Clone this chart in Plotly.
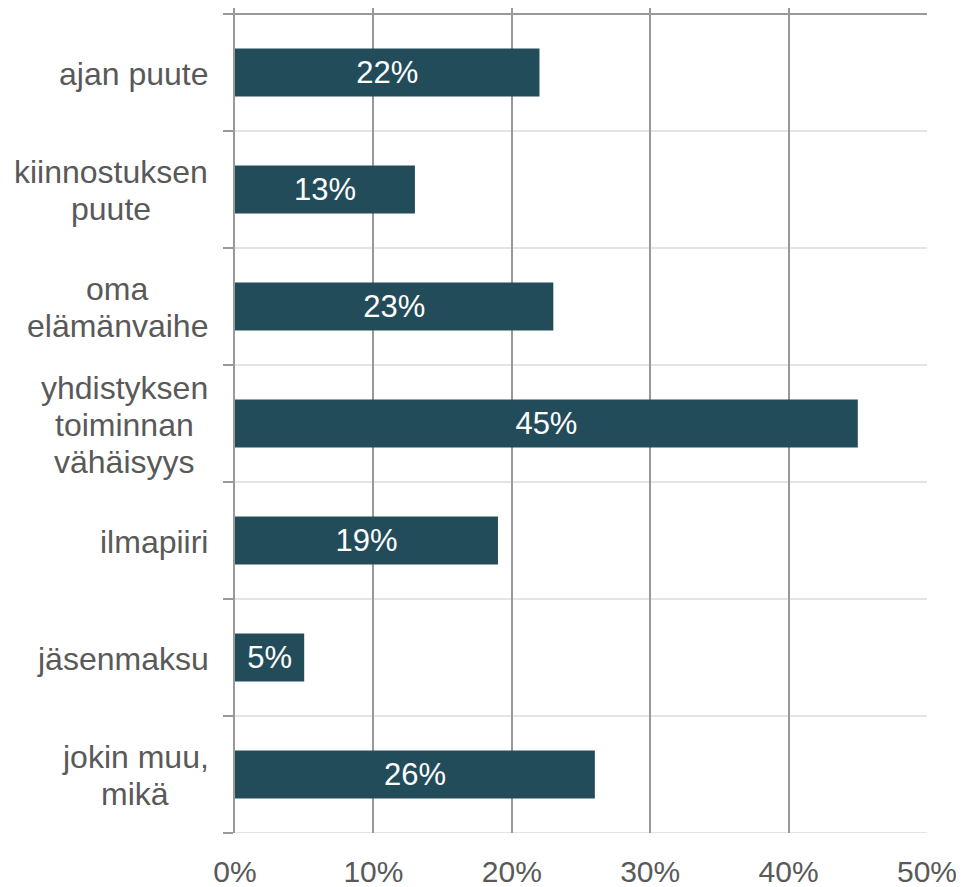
import plotly.graph_objects as go

categories = ["ajan puute", "kiinnostuksen<br>puute", "oma<br>elämänvaihe",
              "yhdistyksen<br>toiminnan<br>vähäisyys", "ilmapiiri", "jäsenmaksu",
              "jokin muu,<br>mikä"]
values = [0.22, 0.13, 0.23, 0.45, 0.19, 0.05, 0.26]
value_labels = ["22%", "13%", "23%", "45%", "19%", "5%", "26%"]
x_ticks = [0, 0.1, 0.2, 0.3, 0.4, 0.5]
x_tick_labels = ["0%", "10%", "20%", "30%", "40%", "50%"]

FONT = "Liberation Sans, Arial, sans-serif"
GRAY = "#999999"
LIGHT = "#e4e4e4"
TEXT = "#595959"
BAR = "#234c5a"
LABEL_SIZE = 32

# Arial / Liberation Sans advance widths (em) for block centring of labels
CW = {"a": .556, "j": .222, "n": .556, " ": .278, "p": .556, "u": .556, "t": .278,
      "e": .556, "k": .5, "i": .222, "o": .556, "s": .5, "m": .833, "l": .222,
      "ä": .556, "v": .5, "h": .556, "y": .5, "d": .556, ",": .278, "r": .333}


def text_w(s):
    return sum(CW.get(ch, .556) for ch in s) * LABEL_SIZE


idx = list(range(len(categories)))
boundaries = [i - 0.5 for i in range(len(categories) + 1)]

# the page body has an 8px margin: compensate
W, H = 956, 879
L, R, T, B = 227, 37, 0, 54
plot_h = H - T - B
band_px = 117
span = plot_h / band_px

fig = go.Figure(go.Bar(
    x=values, y=idx, orientation="h",
    marker=dict(color=BAR, line=dict(width=0)),
    width=0.41,
    text=value_labels, textposition="inside", insidetextanchor="middle",
    textfont=dict(color="white", size=31, family=FONT),
    hoverinfo="skip",
))

LINE_PX = 37
RIGHT_GAP = 27  # px between label block right edge and axis
for i, c in zip(idx, categories):
    lines = c.split("<br>")
    n = len(lines)
    block_w = max(text_w(ln) for ln in lines)
    cx = -RIGHT_GAP - block_w / 2
    for j, ln in enumerate(lines):
        fig.add_annotation(x=0, xref="paper", y=i, yref="y", text=ln,
                           showarrow=False, xanchor="center", yanchor="middle",
                           xshift=cx, yshift=((n - 1) / 2 - j) * LINE_PX - 1,
                           font=dict(size=LABEL_SIZE, color=TEXT, family=FONT))

# top boundary line (darker)
fig.add_shape(type="line", xref="paper", yref="y", x0=-10 / (W - L - R), x1=1,
              y0=-0.5, y1=-0.5, line=dict(color=GRAY, width=2), layer="above")
# category separators + bottom line (light)
for b in boundaries[1:]:
    fig.add_shape(type="line", xref="paper", yref="y", x0=0, x1=1, y0=b, y1=b,
                  line=dict(color=LIGHT, width=2), layer="below")

fig.update_layout(
    width=W, height=H,
    margin=dict(l=L, r=R, t=T, b=B, autoexpand=False),
    paper_bgcolor="white", plot_bgcolor="white",
    showlegend=False,
    xaxis=dict(range=[0, 0.5], tickvals=x_ticks, ticktext=x_tick_labels,
               showgrid=True, gridcolor=GRAY, gridwidth=2,
               zeroline=False, showline=False, ticks="",
               ticklabelstandoff=18,
               tickfont=dict(size=30, color=TEXT, family=FONT)),
    yaxis=dict(range=[6.5, 6.5 - span], tickvals=boundaries, type="linear",
               showticklabels=False, showgrid=False,
               zeroline=False, showline=True, linecolor=GRAY, linewidth=2,
               ticks="outside", ticklen=10, tickcolor=GRAY, tickwidth=2),
)

fig.write_html("out.html")
